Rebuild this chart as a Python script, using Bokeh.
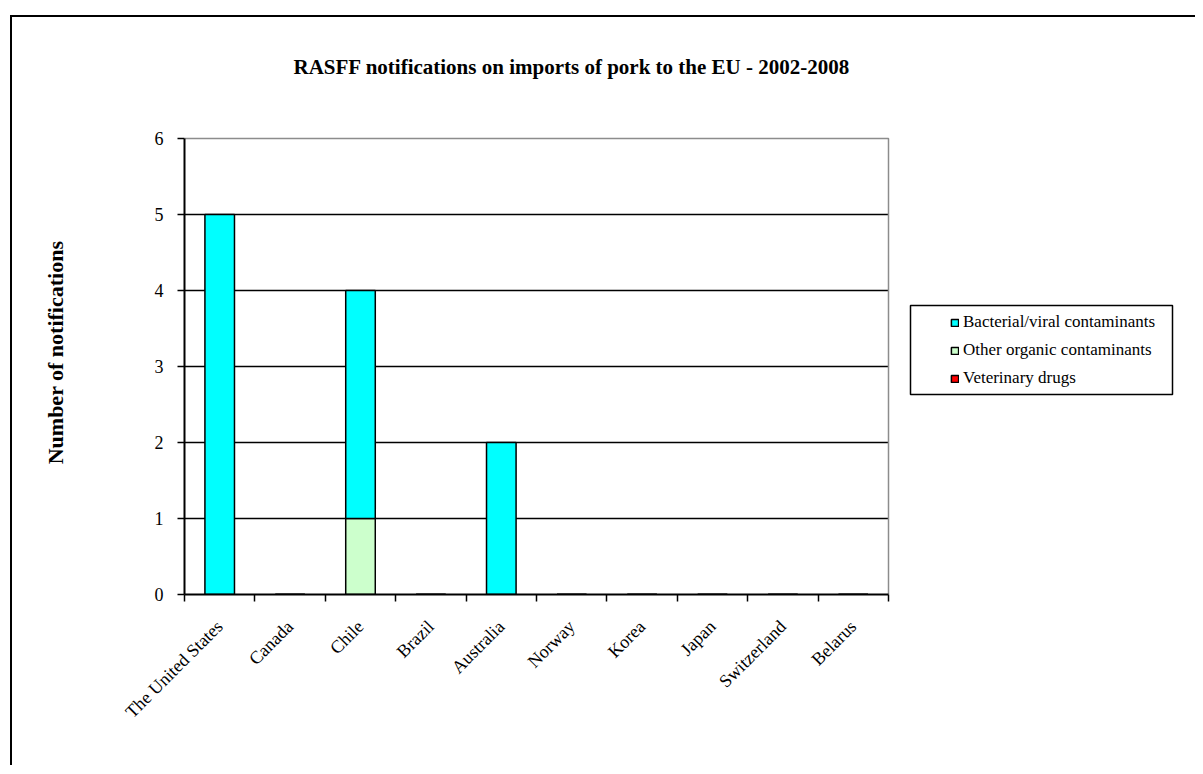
import math
from bokeh.plotting import figure
from bokeh.models import (Range1d, FixedTicker, Legend, LegendItem, Title,
                          BoxAnnotation, ColumnDataSource)
from bokeh.embed import file_html
from bokeh.resources import INLINE

# ---------------- data ----------------
countries = ["The United States", "Canada", "Chile", "Brazil", "Australia",
             "Norway", "Korea", "Japan", "Switzerland", "Belarus"]
bacterial_viral = [5, 0, 3, 0, 2, 0, 0, 0, 0, 0]
other_organic = [0, 0, 1, 0, 0, 0, 0, 0, 0, 0]
veterinary_drugs = [0, 0, 0, 0, 0, 0, 0, 0, 0, 0]
y_ticks = [0, 1, 2, 3, 4, 5, 6]
series_names = ["Bacterial/viral contaminants", "Other organic contaminants",
                "Veterinary drugs"]
series_colors = ["#00FFFF", "#CCFFCC", "#FF0000"]
title_text = "RASFF notifications on imports of pork to the EU - 2002-2008"
y_title = "Number of notifications"

FONT = "Liberation Serif"
n = len(countries)
y_max = y_ticks[-1]
x_centers = [i + 0.5 for i in range(n)]

# ---------------- geometry (pixels) ----------------
OX, OY = 12, 17                 # canvas origin on the page (after margin + border)
W, H = 1185, 750
PL, PR, PT, PB = 184, 888, 138, 594   # plot area on the page
FT = 110                               # frame top on the page
px_x = (PR - PL) / n
px_y = (PB - PT) / y_max
x_hi = (OX + W - PL) / px_x
y_hi = (PB - FT) / px_y

p = figure(width=W, height=H, output_backend="svg", toolbar_location=None,
           x_range=Range1d(0, x_hi), y_range=Range1d(0, y_hi),
           min_border_left=PL - OX, min_border_right=0,
           min_border_top=FT - OY, min_border_bottom=H - (PB - OY),
           background_fill_color="white", border_fill_color="white",
           margin=(15, 0, 0, 10),
           styles={"border-top": "2px solid black",
                   "border-left": "2px solid black"})
p.outline_line_color = None
p.grid.visible = False

# ---------------- title ----------------
p.title.text = title_text
p.title.align = "left"
p.title.offset = 293 - PL
p.title.vertical_align = "bottom"
p.title.text_font = FONT
p.title.text_font_size = "21px"
p.title.text_font_style = "bold"
p.title.text_color = "black"
if "standoff" in Title.properties():
    p.title.standoff = 64

# grid lines and plot-area border
p.segment(x0=0, x1=n, y0=y_ticks[1:-1], y1=y_ticks[1:-1],
          line_color="black", line_width=1.5)
p.line(x=[0, n, n], y=[y_max, y_max, 0], line_color="#8c8c8c", line_width=1.5)

src = ColumnDataSource(dict(x=x_centers, vet=veterinary_drugs,
                            other=other_organic, bact=bacterial_viral))
rs = p.vbar_stack(["vet", "other", "bact"], x="x", width=0.42, source=src,
                  fill_color=[series_colors[2], series_colors[1], series_colors[0]],
                  line_color="black", line_width=1.5)
r_vet, r_other, r_bact = rs

# ---------------- axes ----------------
xa = p.xaxis[0]
xa.bounds = (0, n)
xa.ticker = FixedTicker(ticks=x_centers, minor_ticks=list(range(0, n + 1)))
xa.major_label_overrides = {x: c for x, c in zip(x_centers, countries)}
xa.major_tick_line_color = None
xa.major_tick_in = 0
xa.major_tick_out = 0
xa.minor_tick_in = 0
xa.minor_tick_out = 7
xa.minor_tick_line_color = "black"
xa.minor_tick_line_width = 1.5
xa.major_label_orientation = math.pi / 4
xa.major_label_standoff = 22
xa.major_label_text_font = FONT
xa.major_label_text_font_size = "18px"
xa.major_label_text_color = "black"
xa.axis_line_width = 2
xa.axis_line_color = "black"

ya = p.yaxis[0]
ya.bounds = (0, y_max)
ya.ticker = FixedTicker(ticks=y_ticks)
ya.major_tick_in = 0
ya.major_tick_out = 7
ya.major_tick_line_width = 1.5
ya.major_tick_line_color = "black"
ya.minor_tick_line_color = None
ya.axis_line_width = 2
ya.axis_line_color = "black"
ya.major_label_standoff = 14
ya.major_label_text_font = FONT
ya.major_label_text_font_size = "18px"
ya.major_label_text_color = "black"
ya.axis_label = y_title
ya.axis_label_text_font = FONT
ya.axis_label_text_font_size = "22px"
ya.axis_label_text_font_style = "bold"
ya.axis_label_text_color = "black"
ya.axis_label_standoff = 84

# ---------------- legend ----------------
p.add_layout(BoxAnnotation(left=(910 - PL) / px_x, right=(1172 - PL) / px_x,
                           top=(PB - 305) / px_y, bottom=(PB - 394) / px_y,
                           fill_color=None, line_color="black", line_alpha=1.0,
                           line_width=1.5))
legend = Legend(items=[LegendItem(label=series_names[0], renderers=[r_bact]),
                       LegendItem(label=series_names[1], renderers=[r_other]),
                       LegendItem(label=series_names[2], renderers=[r_vet])],
                location=(950 - PL, PB - 388), padding=0, margin=0, spacing=8,
                glyph_width=9, glyph_height=9, label_standoff=4,
                label_height=20, label_text_font=FONT,
                label_text_font_size="17px", label_text_color="black",
                border_line_color=None, background_fill_alpha=0)
p.add_layout(legend)

open("out.html", "w").write(file_html(p, INLINE))
